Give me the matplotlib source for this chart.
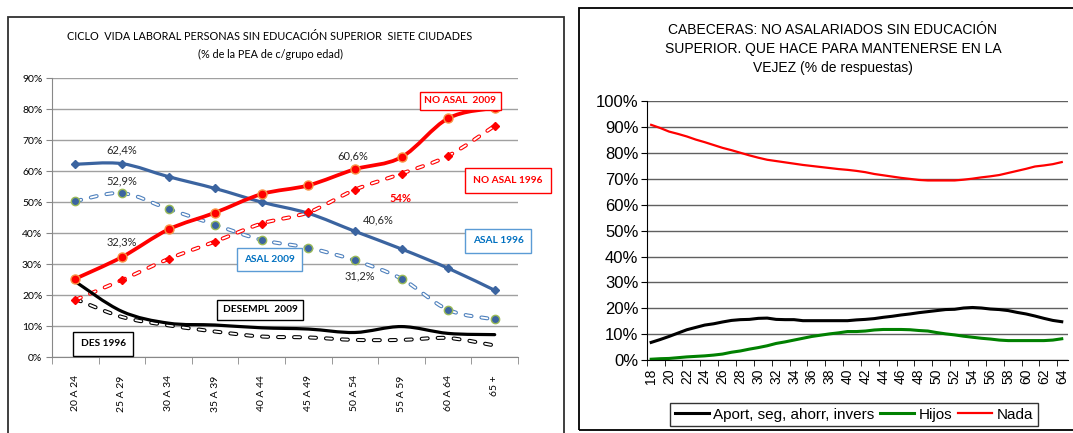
import matplotlib
matplotlib.use('Agg')
import matplotlib.pyplot as plt
import numpy as np
from matplotlib.path import Path
from matplotlib.patches import PathPatch, Rectangle

plt.rcParams['lines.scale_dashes'] = False

# ---- datos grafico izquierdo (% de la PEA de c/grupo edad)
grupos = ['20 A 24', '25 A 29', '30 A 34', '35 A 39', '40 A 44',
          '45 A 49', '50 A 54', '55 A 59', '60 A 64', '65 +']
asal_1996 = [62.2, 62.4, 58.2, 54.4, 50.0, 46.4, 40.6, 34.9, 28.7, 21.6]
asal_2009 = [50.3, 52.9, 47.8, 42.7, 37.8, 35.3, 31.2, 25.3, 15.3, 12.2]
no_asal_2009 = [25.3, 32.3, 41.2, 46.6, 52.6, 55.4, 60.6, 64.5, 77.0, 80.4]
no_asal_1996 = [18.5, 24.9, 31.7, 37.3, 43.1, 46.7, 54.0, 59.2, 64.9, 74.6]
desempl_2009 = [24.4, 14.8, 11.0, 10.4, 9.5, 9.1, 8.0, 9.9, 7.7, 7.3]
des_1996 = [18.8, 13.0, 10.3, 8.3, 6.7, 6.4, 5.6, 5.6, 6.2, 3.8]

# ---- datos grafico derecho (% de respuestas por edad)
edades = list(range(18, 65))
aport = [6.8, 7.9, 9.1, 10.4, 11.7, 12.6, 13.5, 14.0, 14.7, 15.3,
         15.6, 15.7, 16.1, 16.2, 15.7, 15.6, 15.6, 15.2, 15.2, 15.2,
         15.2, 15.2, 15.2, 15.5, 15.7, 16.0, 16.5, 16.9, 17.4, 17.8,
         18.3, 18.7, 19.1, 19.5, 19.6, 20.1, 20.3, 20.1, 19.7, 19.5,
         19.1, 18.4, 17.8, 17.0, 16.1, 15.3, 14.8]
hijos = [0.3, 0.5, 0.6, 0.9, 1.2, 1.4, 1.6, 1.9, 2.3, 3.0,
         3.5, 4.2, 4.8, 5.5, 6.4, 7.0, 7.7, 8.4, 9.1, 9.6,
         10.1, 10.5, 11.0, 11.0, 11.2, 11.6, 11.8, 11.8, 11.8, 11.7,
         11.4, 11.2, 10.6, 10.1, 9.7, 9.2, 8.8, 8.4, 8.1, 7.7,
         7.5, 7.5, 7.5, 7.5, 7.5, 7.7, 8.2]
nada = [90.9, 89.7, 88.3, 87.4, 86.4, 85.2, 84.2, 83.1, 82.0, 81.1,
        80.1, 79.1, 78.2, 77.4, 76.9, 76.4, 75.9, 75.4, 75.0, 74.6,
        74.2, 73.8, 73.5, 73.1, 72.6, 71.9, 71.4, 70.9, 70.4, 70.0,
        69.6, 69.4, 69.4, 69.4, 69.4, 69.7, 70.1, 70.6, 71.0, 71.5,
        72.3, 73.1, 73.9, 74.8, 75.2, 75.7, 76.5]


def curva(x, y):
    # linea suavizada tipo excel (bezier por los puntos)
    pts = np.column_stack([np.asarray(x, float), np.asarray(y, float)])
    verts = [pts[0]]
    codes = [Path.MOVETO]
    n = len(pts)
    for i in range(n - 1):
        p0 = pts[max(i - 1, 0)]
        p1 = pts[i]
        p2 = pts[i + 1]
        p3 = pts[min(i + 2, n - 1)]
        verts += [p1 + (p2 - p0) / 6, p2 - (p3 - p1) / 6, p2]
        codes += [Path.CURVE4] * 3
    return Path(verts, codes)


def linea(ax, x, y, color, lw, hueca=False, z=3):
    if hueca:
        ax.add_patch(PathPatch(curva(x, y), fill=False, ec=color, lw=2.9,
                               ls=(0, (4.3, 7.2)), capstyle='round', zorder=z))
        ax.add_patch(PathPatch(curva(x, y), fill=False, ec='white', lw=1.3,
                               ls=(0, (4.3, 7.2)), capstyle='round', zorder=z))
    else:
        ax.add_patch(PathPatch(curva(x, y), fill=False, ec=color, lw=lw,
                               capstyle='round', joinstyle='round', zorder=z))


fig = plt.figure(figsize=(10.73, 4.33), dpi=100)
W, H = 1073.0, 433.0

# marcos de los dos graficos
fig.add_artist(Rectangle((8 / W, -0.1), (564 - 8) / W, 1.1 - 17 / H, fill=False,
                         ec='#303030', lw=1.3, transform=fig.transFigure))
fig.add_artist(Rectangle((579 / W, 1 - 430 / H), 0.5, (430 - 8) / H, fill=False,
                         ec='black', lw=1.3, transform=fig.transFigure))

# ================= grafico izquierdo
fuente = ['Lato', 'DejaVu Sans']
ax = fig.add_axes([52 / W, 1 - 357.3 / H, (518 - 52) / W, (357.3 - 78) / H])
x = np.arange(len(grupos))
ax.set_xlim(-0.5, len(grupos) - 0.5)
ax.set_ylim(0, 90)
ax.set_yticks(np.arange(0, 91, 10))
ax.set_yticklabels(['%d%%' % v for v in range(0, 91, 10)], fontsize=7.5, family=fuente)
ax.set_xticks(x)
ax.set_xticklabels(grupos, rotation=90, fontsize=7.5, family=fuente)
ax.set_xticks(np.arange(-0.5, len(grupos), 1), minor=True)
ax.tick_params(axis='x', which='major', length=0, pad=13)
ax.tick_params(axis='x', which='minor', length=5, color='#888888', direction='out')
ax.tick_params(axis='y', length=4, color='#888888', pad=3)
ax.grid(axis='y', color='#a0a0a0', lw=1)
ax.set_axisbelow(True)
for s in ['top', 'right']:
    ax.spines[s].set_visible(False)
for s in ['left', 'bottom']:
    ax.spines[s].set_color('#888888')

azul = '#3b64a0'
azul2 = '#4f81bd'
linea(ax, x, des_1996, 'black', 0, hueca=True)
linea(ax, x, asal_2009, azul2, 0, hueca=True)
linea(ax, x, no_asal_1996, 'red', 0, hueca=True)
linea(ax, x, desempl_2009, 'black', 2.3)
linea(ax, x, asal_1996, azul, 2.3)
linea(ax, x, no_asal_2009, 'red', 2.7)

ax.plot(x, asal_1996, ls='none', marker='D', ms=4.5, color=azul, zorder=4)
ax.plot(x, asal_2009, ls='none', marker='o', ms=6, mfc=azul, mec='#9bbb59', mew=1, zorder=4)
ax.plot(x, no_asal_1996, ls='none', marker='D', ms=4.5, color='red', zorder=4)
ax.plot(x, no_asal_2009, ls='none', marker='o', ms=6.5, mfc='red', mec='#f79646', mew=1, zorder=4)


def pct(v):
    s = ('%.1f' % v).replace('.', ',')
    if s.endswith(',0'):
        s = s[:-2]
    return s + '%'


etq = dict(fontsize=8, family=fuente, ha='center', va='center', color='#262626')
ax.text(1, 66.8, pct(asal_1996[1]), **etq)
ax.text(1, 56.7, pct(asal_2009[1]), **etq)
ax.text(1, 37.2, pct(no_asal_2009[1]), **etq)
ax.text(5.95, 64.9, pct(no_asal_2009[6]), **etq)
ax.text(6.5, 44.3, pct(asal_1996[6]), **etq)
ax.text(6.1, 26.3, pct(asal_2009[6]), **etq)
ax.text(6.98, 51.1, pct(no_asal_1996[6]), fontsize=8, family=fuente, ha='center',
        va='center', color='red', weight='bold')

cajas = [
    ('NO ASAL  2009', 8.26, 82.7, 'red', 'red', 0.45),
    ('NO ASAL 1996', 9.29, 56.9, 'red', 'red', 0.8),
    ('ASAL 1996', 9.08, 37.5, '#0070c0', '#5b9bd5', 0.75),
    ('ASAL 2009', 4.16, 31.4, '#0070c0', '#5b9bd5', 0.7),
    ('DESEMPL  2009', 3.97, 15.3, 'black', 'black', 0.55),
    ('DES 1996', 0.6, 4.3, 'black', 'black', 0.75),
]
for t, cx, cy, c, ec, p in cajas:
    ax.text(cx, cy, t, fontsize=7.3, family=fuente, weight='bold', color=c,
            ha='center', va='center', zorder=6,
            bbox=dict(boxstyle='square,pad=%s' % p, fc='white', ec=ec, lw=1))

fig.text(270 / W, 1 - 37 / H, 'CICLO  VIDA LABORAL PERSONAS SIN EDUCACIÓN SUPERIOR  SIETE CIUDADES',
         fontsize=7.8, family=fuente, ha='center', va='center')
fig.text(270 / W, 1 - 54 / H, '(% de la PEA de c/grupo edad)',
         fontsize=7.8, family=fuente, ha='center', va='center')

# ================= grafico derecho
arial = ['Liberation Sans', 'DejaVu Sans']
ax2 = fig.add_axes([646.7 / W, 1 - 360 / H, (1068 - 646.7) / W, (360 - 101.3) / H])
xe = np.arange(len(edades))
ax2.plot(xe, aport, color='black', lw=2.2, label='Aport, seg, ahorr, invers')
ax2.plot(xe, hijos, color='#008000', lw=2.2, label='Hijos')
ax2.plot(xe, nada, color='red', lw=1.6, label='Nada')
ax2.set_xlim(-0.5, len(edades) - 0.3)
ax2.set_ylim(0, 100)
ax2.set_yticks(np.arange(0, 101, 10))
ax2.set_yticklabels(['%d%%' % v for v in range(0, 101, 10)], fontsize=12, family=arial)
ax2.set_xticks(xe[::2])
ax2.set_xticklabels([str(e) for e in edades[::2]], rotation=90, fontsize=10, family=arial)
ax2.set_xticks(np.arange(-0.5, len(edades), 2), minor=True)
ax2.tick_params(axis='x', which='major', length=0, pad=6)
ax2.tick_params(axis='x', which='minor', length=4, color='black', direction='out')
ax2.tick_params(axis='y', length=4, color='black', direction='out', pad=2)
ax2.grid(axis='y', color='#606060', lw=1)
ax2.set_axisbelow(True)
for s in ['top', 'right']:
    ax2.spines[s].set_visible(False)
for s in ['left', 'bottom']:
    ax2.spines[s].set_color('black')
ax2.legend(loc='center', bbox_to_anchor=(0.492, -0.212), ncol=3, frameon=True,
           fancybox=False, edgecolor='black', prop={'family': arial, 'size': 11},
           handlelength=2.2, handletextpad=0.3, columnspacing=0.4, borderpad=0.3)

fig.text(833 / W, 1 - 30 / H, 'CABECERAS: NO ASALARIADOS SIN EDUCACIÓN', fontsize=10,
         family=arial, ha='center', va='center')
fig.text(833 / W, 1 - 49 / H, 'SUPERIOR. QUE HACE PARA MANTENERSE EN LA', fontsize=10,
         family=arial, ha='center', va='center')
fig.text(833 / W, 1 - 68 / H, 'VEJEZ (% de respuestas)', fontsize=10,
         family=arial, ha='center', va='center')

fig.savefig('out.png', dpi=100)
